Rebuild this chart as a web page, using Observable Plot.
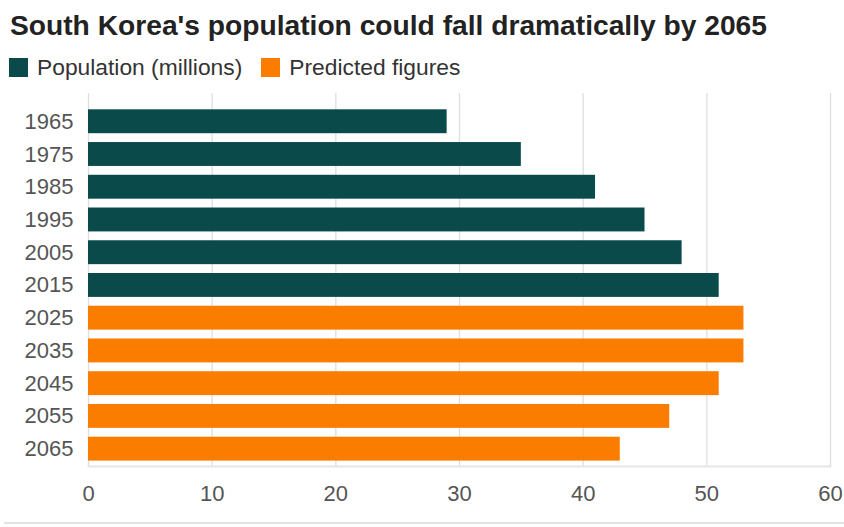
<!DOCTYPE html>
<html>
<head>
<meta charset="utf-8">
<script src="https://cdn.jsdelivr.net/npm/d3@7"></script>
<script src="https://cdn.jsdelivr.net/npm/@observablehq/plot@0.6"></script>
<style>
  html, body { margin: 0; padding: 0; background: #fff; }
  body { width: 844px; height: 527px; position: relative; overflow: hidden; font-family: "Liberation Sans", Arial, Helvetica, sans-serif; }
  #title { position: absolute; left: 10px; top: 7px; font-size: 28.2px; line-height: 36px; font-weight: bold; color: #222; white-space: nowrap; }
  #legend { position: absolute; left: 9px; top: 53px; height: 28px; font-size: 22.8px; color: #333; display: flex; align-items: center; white-space: nowrap; }
  .sw { display: inline-block; width: 19px; height: 19px; margin-right: 9px; }
  .item { display: flex; align-items: center; margin-right: 19px; }
  #chart { position: absolute; left: 0; top: 85px; }
  #footer { position: absolute; left: 4px; right: 0; top: 522px; border-top: 2px solid #e2e2e2; }
</style>
</head>
<body>
<div id="title">South Korea's population could fall dramatically by 2065</div>
<div id="legend"></div>
<div id="chart"></div>
<div id="footer"></div>
<script>
const years = ["1965","1975","1985","1995","2005","2015","2025","2035","2045","2055","2065"];
const population = [29, 35, 41, 45, 48, 51, 53, 53, 51, 47, 43];
const series = ["Population (millions)","Population (millions)","Population (millions)","Population (millions)","Population (millions)","Population (millions)","Predicted figures","Predicted figures","Predicted figures","Predicted figures","Predicted figures"];
const seriesNames = ["Population (millions)", "Predicted figures"];
const seriesColors = ["#0a4a4b", "#fb7d00"];
const xTicks = [0, 10, 20, 30, 40, 50, 60];

const data = years.map((y, i) => ({year: y, value: population[i], series: series[i]}));

const legend = document.getElementById("legend");
seriesNames.forEach((n, i) => {
  const it = document.createElement("span");
  it.className = "item";
  it.innerHTML = `<span class="sw" style="background:${seriesColors[i]}"></span>${n}`;
  legend.appendChild(it);
});

const chart = Plot.plot({
  width: 844,
  height: 430,
  marginLeft: 88,
  marginRight: 14,
  marginTop: 8,
  marginBottom: 49,
  style: { fontFamily: '"Liberation Sans", Arial, sans-serif', fontSize: "22px", color: "#555", background: "#fff" },
  x: { domain: [0, 60], ticks: xTicks, label: null },
  y: { domain: years, range: [24.3, 375.6], round: false, paddingInner: 0.27, paddingOuter: 0, label: null },
  color: { domain: seriesNames, range: seriesColors },
  marks: [
    Plot.gridX(xTicks, { stroke: "#dedede", strokeOpacity: 1, strokeWidth: 1.3 }),
    Plot.frame({ anchor: "bottom", stroke: "#e6e6e6", strokeWidth: 2 }),
    Plot.barX(data, { y: "year", x: "value", fill: "series" }),
    Plot.axisX({ ticks: xTicks, tickSize: 0, tickPadding: 19, fill: "#555", fontSize: 22 }),
    Plot.axisY({ tickSize: 0, tickPadding: 15, fill: "#555", fontSize: 22 })
  ]
});
document.getElementById("chart").appendChild(chart);
</script>
</body>
</html>
